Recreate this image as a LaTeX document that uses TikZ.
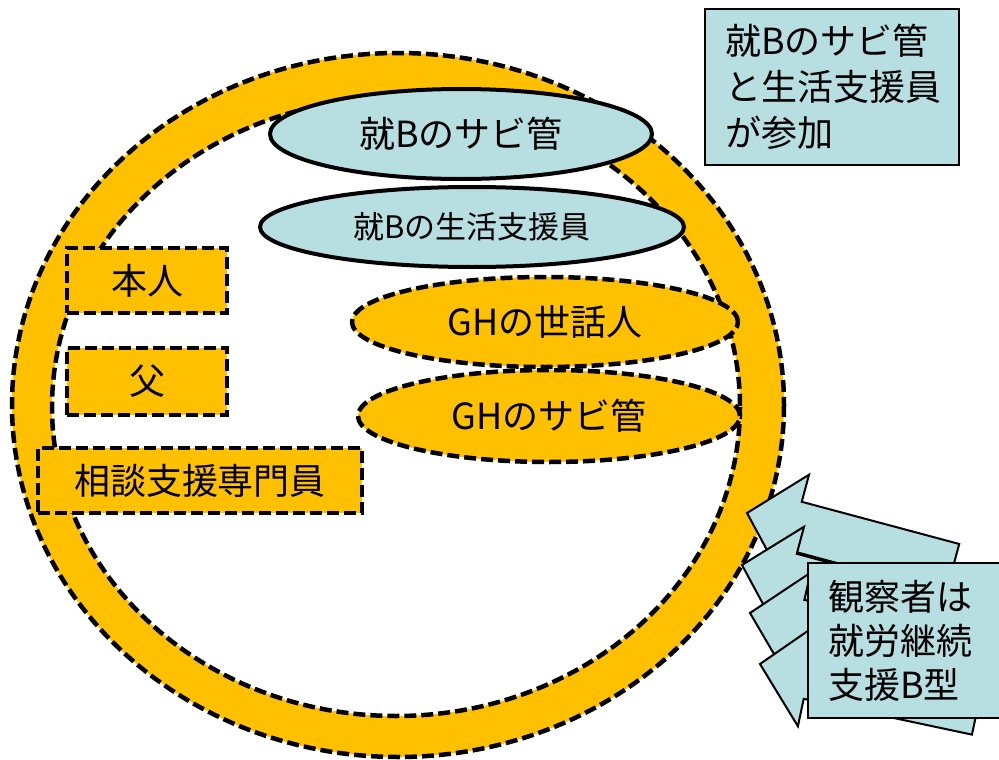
\documentclass[tikz,border=0pt]{standalone}
\usepackage{fontspec}
\newfontfamily\jp{Noto Sans CJK JP}
\usetikzlibrary{shapes.geometric}
\definecolor{ringor}{HTML}{FFC000}
\definecolor{aqua}{HTML}{B7DEE1}
\newcommand\obsarr[4]{%
  \begin{scope}[shift={(#1,#2)}, rotate=-#3]
    \draw[obsarrow] (0,0) -- (50,-53) -- (50,-25) -- (#4,-25) -- (#4,25) -- (50,25) -- (50,53) -- cycle;
  \end{scope}}
\begin{document}
\begin{tikzpicture}[x=1pt,y=-1pt,
  ringline/.style={line width=4.5pt, dash pattern=on 12pt off 5pt},
  blueell/.style={ellipse, draw, line width=4pt, fill=aqua, inner sep=0pt},
  orell/.style={ellipse, draw, ringline, fill=ringor, inner sep=0pt},
  orbox/.style={rectangle, draw, ringline, fill=ringor, inner sep=0pt},
  infobox/.style={rectangle, draw, line width=2pt, fill=aqua, align=left, inner xsep=20pt, inner ysep=0pt},
  obsarrow/.style={draw, line width=2pt, fill=aqua, line join=miter},
  font=\jp\fontsize{36}{44}\selectfont]
\useasboundingbox (0,0) rectangle (999,760);
\clip (0,0) rectangle (999,760);
% ring
\fill[ringor, even odd rule] (398,405) ellipse [x radius=386, y radius=352]
  (396,407) ellipse [x radius=344, y radius=309];
\draw[ringline] (398,405) ellipse [x radius=386, y radius=352];
\draw[ringline] (396,407) ellipse [x radius=344, y radius=309];
% ellipses
\node[blueell, minimum width=382pt, minimum height=90pt] (sabiB) at (461,134) {就Bのサビ管};
\node[blueell, minimum width=424pt, minimum height=80pt, font=\jp\fontsize{31}{36}\selectfont] (seikatsu) at (472,227) {就Bの生活支援員};
\node[orell, minimum width=386pt, minimum height=90pt] (sewa) at (545,322) {GHの世話人};
\node[orell, minimum width=382pt, minimum height=92pt] (sabiGH) at (549,416) {GHのサビ管};
% boxes
\node[orbox, minimum width=160pt, minimum height=65pt] (honnin) at (147,280.5) {本人};
\node[orbox, minimum width=160pt, minimum height=67pt] (chichi) at (147,381.5) {父};
\node[orbox, minimum width=324pt, minimum height=65pt] (soudan) at (200,480.5) {相談支援専門員};
% observer arrows
\obsarr{747}{513}{15}{213}
\obsarr{742}{565}{15}{215}
\obsarr{750}{613}{13}{218}
\obsarr{760}{664}{12}{222}
% info boxes
\node[infobox, minimum width=254pt, minimum height=156pt, text width=214pt,
  font=\jp\fontsize{36}{46}\selectfont] (note) at (832,87) {就Bのサビ管\\と生活支援員\\が参加};
\node[infobox, minimum width=202pt, minimum height=155pt, text width=162pt,
  font=\jp\fontsize{36}{44}\selectfont] (obs) at (909,640.5) {観察者は\\就労継続\\支援B型};
\end{tikzpicture}
\end{document}
